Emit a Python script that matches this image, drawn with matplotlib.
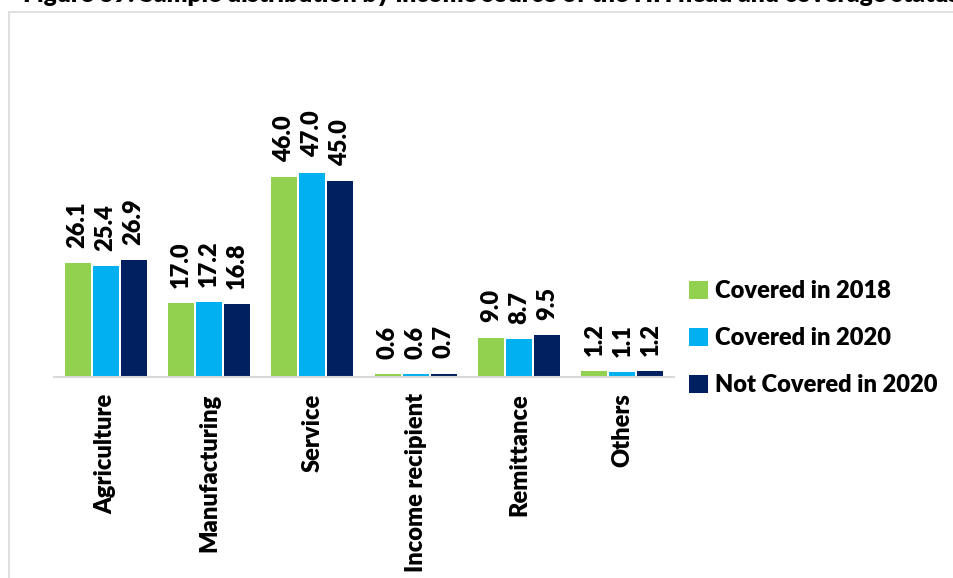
import matplotlib.pyplot as plt
import numpy as np
from matplotlib.patches import Rectangle

plt.rcParams['font.family'] = ['Lato', 'DejaVu Sans']
plt.rcParams['font.weight'] = 'heavy'
fs = 17

# Data
categories = ['Agriculture', 'Manufacturing', 'Service', 'Income recipient', 'Remittance', 'Others']
covered_2018 = [26.1, 17.0, 46.0, 0.6, 9.0, 1.2]
covered_2020 = [25.4, 17.2, 47.0, 0.6, 8.7, 1.1]
not_covered_2020 = [26.9, 16.8, 45.0, 0.7, 9.5, 1.2]
series_names = ['Covered in 2018', 'Covered in 2020', 'Not Covered in 2020']
colors = ['#92D050', '#00B0F0', '#002060']
title = 'Figure 39: Sample distribution by income source of the HH head and coverage status'

W, H = 954, 578
fig = plt.figure(figsize=(W / 100, H / 100), dpi=100)

# page frame around the chart (cut by the crop)
fig.patches.append(Rectangle((9 / W, -0.1), 1.2, 1 - 12 / H + 0.1, transform=fig.transFigure,
                             fill=False, edgecolor='#D9D9D9', linewidth=1.2))
fig.text(23 / W, 1 - 2 / H, title, ha='left', va='baseline', fontsize=17.7)

ax = fig.add_axes([54 / W, (H - 376.7) / H, 620 / W, 217 / H])
x = np.arange(len(categories))
off = 0.271
bw = 0.25
for k, (vals, name, c) in enumerate(zip([covered_2018, covered_2020, not_covered_2020], series_names, colors)):
    pos = x + (k - 1) * off
    ax.bar(pos, vals, width=bw, color=c, label=name, edgecolor='none')
    for p, v in zip(pos, vals):
        ax.annotate(f'{v:.1f}', (p, v), xytext=(0, 11), textcoords='offset points',
                    rotation=90, ha='center', va='bottom', fontsize=fs)

ax.set_xlim(-0.5, len(categories) - 0.5)
ax.set_ylim(0, 50)
for s in ['top', 'right', 'left']:
    ax.spines[s].set_visible(False)
ax.spines['bottom'].set_color('#D9D9D9')
ax.spines['bottom'].set_linewidth(1.5)
ax.set_yticks([])
ax.set_xticks(x)
ax.set_xticklabels(categories, rotation=90, fontsize=fs)
ax.tick_params(axis='x', length=0, pad=12)

handles, labels = ax.get_legend_handles_labels()
fig.legend(handles, labels, loc='upper left', bbox_to_anchor=(680 / W, 1 - 271 / H),
           frameon=False, fontsize=fs, handlelength=0.8, handleheight=0.8,
           handletextpad=0.3, labelspacing=1.05, borderaxespad=0)

fig.savefig('out.png', dpi=100)
plt.close(fig)
